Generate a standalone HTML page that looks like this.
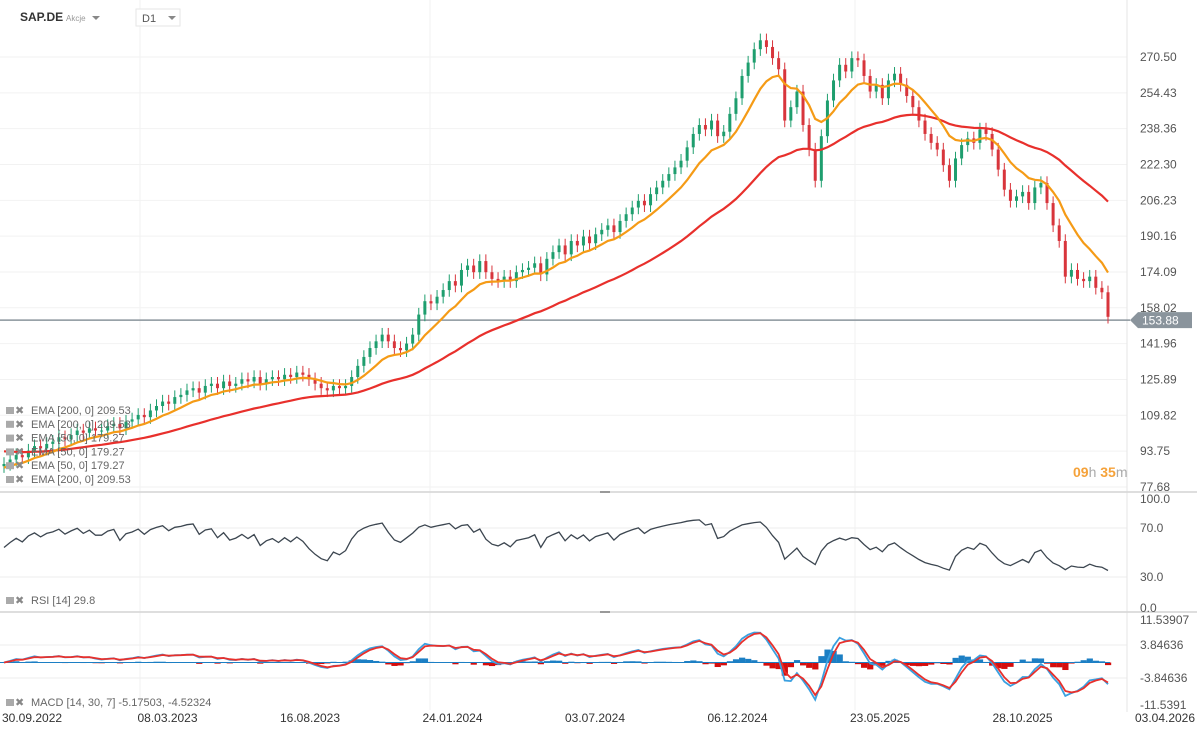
<!DOCTYPE html>
<html><head><meta charset="utf-8"><style>
body{margin:0;background:#fff;font-family:"Liberation Sans",sans-serif;}
#wrap{position:relative;width:1200px;height:736px;overflow:hidden;background:#fff}
svg text{font-family:"Liberation Sans",sans-serif}
</style></head><body>
<div id="wrap">
<svg id="c" width="1200" height="736"></svg>
</div>
<script>
const closes=[88,90,92,91,94,96,95,97,98,
100,99,101,103,102,104,103,103,
105,106,104,107,108,110,109,112,
114,116,115,118,119,121,
122,120,123,124,122,125,123,
124,126,125,127,124,126,127,126,
128,127,129,128,
126,124,122,
121,123,122,123,
127,132,
136,140,143,146,
143,140,139,
142,146,
155,161,
160,163,166,
170,168,175,
177,174,179,
174,171,170,
172,170,174,175,
176,178,173,
180,183,186,
182,188,186,
190,187,191,193,
195,192,197,
200,203,206,
204,209,212,215,
218,221,224,
230,236,240,
238,242,235,237,
245,252,262,
268,274,278,
275,270,265,
242,
248,255,
240,229,215,
235,251,
260,267,
264,270,269,
262,255,
258,252,260,263,
258,253,
248,242,236,
232,229,
222,215,
225,231,
234,232,238,
236,229,
220,211,
206,208,210,
205,212,214,
205,195,188,
172,
175,171,170,
172,167,
165,154];
const priceTicks=["270.50","254.43","238.36","222.30","206.23","190.16","174.09","158.02","141.96","125.89","109.82","93.75","77.68"];
const rsiTicks=["100.0","70.0","30.0","0.0"];
const macdTicks=["11.53907","3.84636","-3.84636","-11.5391"];
const dateLabels=["30.09.2022","08.03.2023","16.08.2023","24.01.2024","03.07.2024","06.12.2024","23.05.2025","28.10.2025","03.04.2026"];
const lastPrice=153.88;

const svg=document.getElementById('c');
const NS='http://www.w3.org/2000/svg';
function mk(t,a,p){const e=document.createElementNS(NS,t);for(const k in a)e.setAttribute(k,a[k]);(p||svg).appendChild(e);return e;}
const n=closes.length;
const xs=i=>4+i*(1104/(n-1));
const yP=p=>57+(270.5-p)*(430/192.82);
const yR=v=>608-v*1.09;
const yM=v=>662.5-v*3.68;

for(let k=0;k<priceTicks.length;k++){const l=mk('line',{x1:0,x2:1127,y1:57+k*35.83,y2:57+k*35.83,stroke:'#f2f2f2'});}
[140,430,855].forEach(x=>{const l=mk('line',{x1:x,x2:x,y1:0,y2:710,stroke:'#f2f2f2'});});
[528,577].forEach(y=>mk('line',{x1:0,x2:1127,y1:y,y2:y,stroke:'#eee'}));
[645,678].forEach(y=>mk('line',{x1:0,x2:1127,y1:y,y2:y,stroke:'#eee'}));
mk('line',{x1:1127,x2:1127,y1:0,y2:712,stroke:'#e6e6e6'});
[492,612].forEach(y=>{const l=mk('line',{x1:0,x2:1197,y1:y,y2:y,stroke:'#d4d4d4','stroke-width':1.5});mk('rect',{x:600,y:y-1,width:10,height:2,fill:'#999'});});

mk('line',{x1:0,x2:1130,y1:yP(lastPrice)+3,y2:yP(lastPrice)+3,stroke:'#8a949c','stroke-width':1.5});

const gc=mk('g',{});
for(let i=0;i<n;i++){const o=i?closes[i-1]:closes[i]-1,c=closes[i];const up=c>=o;const col=up?'#1e9e6e':'#d8353c';
const hi=Math.max(o,c)+3,lo=Math.min(o,c)-3;const x=xs(i);
const w=mk('line',{x1:x,x2:x,y1:yP(hi),y2:yP(lo),stroke:col,'stroke-width':1},gc);
const t=Math.min(yP(o),yP(c)),h=Math.max(1,Math.abs(yP(o)-yP(c)));
const r=mk('rect',{x:x-1.5,y:t,width:3,height:h,fill:col},gc);}

function ema(arr,per,seed){const a=2/(per+1);let e=seed;return arr.map(v=>(e=e+a*(v-e)));}
const e200=ema(closes,40,94),e50=ema(closes,10,86);
function path(vals,fy){return vals.map((v,i)=>(i?'L':'M')+xs(i).toFixed(1)+','+fy(v).toFixed(1)).join('');}
let p=mk('path',{d:path(e200,yP),fill:'none',stroke:'#e8302c','stroke-width':2.2});
p=mk('path',{d:path(e50,yP),fill:'none',stroke:'#f59b16','stroke-width':2.2});

const rp=6;let ag=0,al=0;const rsi=[];
for(let i=0;i<n;i++){const d=i?closes[i]-closes[i-1]:0;const g=Math.max(d,0),l=Math.max(-d,0);
if(i===0){ag=1;al=1;}else{ag=(ag*(rp-1)+g)/rp;al=(al*(rp-1)+l)/rp;}rsi.push(100-100/(1+ag/(al||0.001)));}
p=mk('path',{d:path(rsi.map(v=>28+(v-0)*0.55),yR),fill:'none',stroke:'#3c4650','stroke-width':1.3});

const f=ema(closes,3,closes[0]),s=ema(closes,6,closes[0]);const macd=f.map((v,i)=>(v-s[i])*1.0);
const sig=ema(macd,2,0);
for(let i=0;i<n;i++){const h=macd[i]-sig[i];const y0=yM(0),y1=yM(h*1.5);
const r=mk('rect',{x:xs(i)-3,y:Math.min(y0,y1),width:6.2,height:Math.abs(y1-y0),fill:h>=0?'#1c7fc4':'#d40e0e'});}
mk('line',{x1:0,x2:1110,y1:yM(0),y2:yM(0),stroke:'#1c7fc4','stroke-width':1});
p=mk('path',{d:path(macd,yM),fill:'none',stroke:'#3aa0e0','stroke-width':1.8});
p=mk('path',{d:path(sig,yM),fill:'none',stroke:'#e8302c','stroke-width':1.8});

function txt(x,y,s,a){const t=mk('text',Object.assign({x:x,y:y,'font-size':12,fill:'#555'},a||{}));t.textContent=s;return t;}
priceTicks.forEach((s,k)=>{const t=txt(1140,57+k*35.83+4,s);});
[[499,0],[528,1],[577,2],[608,3]].forEach(([y,k])=>{const t=txt(1140,y+4,rsiTicks[k]);});
[[620,0],[645,1],[678,2],[705,3]].forEach(([y,k])=>{const t=txt(1140,y+4,macdTicks[k]);});
dateLabels.forEach((s,k)=>{const t=txt(k===0?2:(25+k*142.5),722,s,{'font-size':12,fill:'#333','text-anchor':k===0?'start':'middle'});});

const ly=yP(lastPrice)+3;
p=mk('path',{d:`M1130,${ly} L1138,${ly-8} L1192,${ly-8} L1192,${ly+8} L1138,${ly+8} Z`,fill:'#8a949c'});
txt(1142,ly+4.5,'153.88',{fill:'#fff','font-size':12});

const cd=mk('text',{x:1073,y:477,'font-size':14,'font-weight':'bold',fill:'#f5a23a'});
cd.innerHTML='09<tspan fill="#aaa" font-weight="normal">h</tspan> 35<tspan fill="#aaa" font-weight="normal">m</tspan>';

function leg(y,s,name){const g=mk('g',{});
mk('rect',{x:6,y:y-7,width:8,height:7,fill:'#aaa'},g);mk('text',{x:15,y:y,'font-size':11,fill:'#888'},g).textContent='✖';
const t=mk('text',{x:31,y:y,'font-size':11,fill:'#666'},g);t.textContent=s;}
const L=["EMA [200, 0] 209.53","EMA [200, 0] 209.53","EMA [50, 0] 179.27","EMA [50, 0] 179.27","EMA [50, 0] 179.27","EMA [200, 0] 209.53"];
L.forEach((s,k)=>leg(414+k*13.8,s,'ema-legend-entry'));
leg(604,"RSI [14]  29.8",'rsi-legend');
leg(706,"MACD [14, 30, 7] -5.17503,  -4.52324",'macd-legend');

let t=txt(20,21,'SAP.DE',{'font-size':12,'font-weight':'bold',fill:'#333'});
txt(66,21,'Akcje',{'font-size':8,fill:'#999'});
p=mk('path',{d:'M92,16 L100,16 L96,20 Z',fill:'#888'});
let r=mk('rect',{x:136,y:9,width:44,height:17,fill:'#fff',stroke:'#e6e6e6'});
txt(142,22,'D1',{'font-size':11,fill:'#555'});
mk('path',{d:'M168,16 L176,16 L172,20 Z',fill:'#888'});
</script>
</body></html>
